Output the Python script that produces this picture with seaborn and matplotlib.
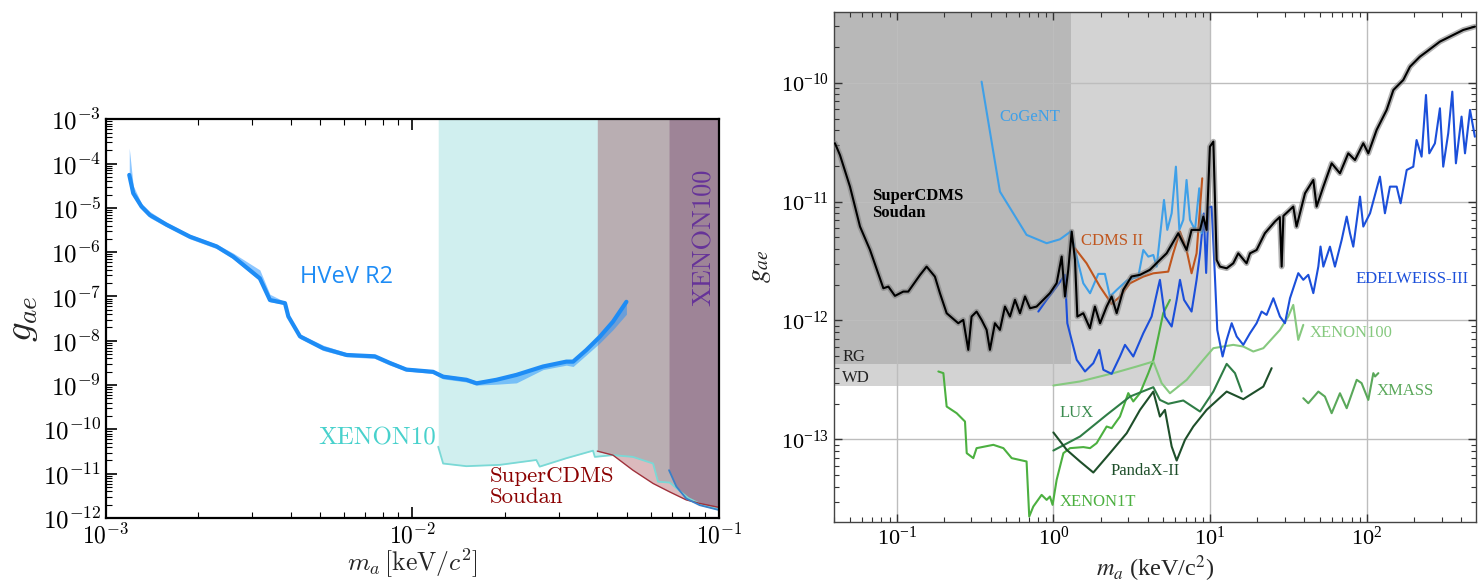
import numpy as np
import matplotlib
matplotlib.use("Agg")
import matplotlib.pyplot as plt
import seaborn as sns
from matplotlib.ticker import LogLocator, FuncFormatter, NullFormatter

# ---------------- data (log10 values) ----------------
# Left panel: HVeV R2 limit and its band
hvev_logm = [-2.924, -2.911, -2.884, -2.857, -2.802, -2.726, -2.639, -2.585, -2.498, -2.465,
             -2.416, -2.405, -2.367, -2.291, -2.215, -2.123, -2.074, -2.020, -1.933, -1.900,
             -1.824, -1.791, -1.726, -1.661, -1.574, -1.498, -1.476, -1.433, -1.389, -1.346, -1.302]
hvev_logg = [-4.256, -4.67, -4.97, -5.16, -5.38, -5.65, -5.87, -6.10, -6.59, -7.08,
             -7.15, -7.45, -7.90, -8.17, -8.32, -8.35, -8.50, -8.65, -8.70, -8.81,
             -8.88, -8.96, -8.88, -8.77, -8.58, -8.47, -8.47, -8.21, -7.91, -7.57, -7.12]
hvev_band_hi = [-3.65, -4.50, -4.90, -5.08, -5.33, -5.60, -5.82, -6.02, -6.40, -6.95,
                -7.12, -7.40, -7.85, -8.10, -8.27, -8.32, -8.45, -8.60, -8.66, -8.76,
                -8.84, -8.91, -8.84, -8.72, -8.55, -8.43, -8.45, -8.18, -7.88, -7.55, -7.10]
hvev_band_lo = [-4.40, -4.75, -5.02, -5.22, -5.43, -5.70, -5.92, -6.15, -6.65, -7.12,
                -7.18, -7.50, -7.95, -8.22, -8.36, -8.40, -8.55, -8.68, -8.74, -8.86,
                -8.93, -9.00, -8.98, -8.95, -8.65, -8.55, -8.58, -8.32, -8.05, -7.75, -7.40]

xenon10_logm = [-1.916, -1.900, -1.824, -1.715, -1.596, -1.585, -1.498, -1.411, -1.405, -1.346,
                -1.281, -1.215, -1.199, -1.161, -1.10, -1.05, -1.0]
xenon10_logg = [-10.39, -10.77, -10.83, -10.80, -10.69, -10.84, -10.65, -10.48, -10.62, -10.58,
                -10.62, -10.77, -11.18, -11.20, -11.55, -11.72, -11.80]

scdms_l_logm = [-1.397, -1.346, -1.281, -1.215, -1.161, -1.107, -1.063, -1.0]
scdms_l_logg = [-10.49, -10.58, -10.92, -11.22, -11.41, -11.59, -11.67, -11.76]

xenon100_l_logm = [-1.163, -1.139, -1.107, -1.063, -1.0]
xenon100_l_logg = [-10.92, -11.29, -11.56, -11.71, -11.82]

left_xticks = [1e-3, 1e-2, 1e-1]
left_yticks = [1e-12, 1e-11, 1e-10, 1e-9, 1e-8, 1e-7, 1e-6, 1e-5, 1e-4, 1e-3]

# Right panel
rg_mass_max, rg_g_min = 1.29, 4.3e-13
wd_mass_max, wd_g_min = 10.0, 2.8e-13
right_xticks = [1e-1, 1e0, 1e1, 1e2]
right_yticks = [1e-13, 1e-12, 1e-11, 1e-10]

soudan_logm = [-1.394, -1.362, -1.298, -1.234, -1.170, -1.085, -1.053, -1.011, -0.958, -0.926,
               -0.851, -0.809, -0.756, -0.724, -0.681, -0.607, -0.575, -0.543, -0.522, -0.490,
               -0.458, -0.426, -0.405, -0.373, -0.341, -0.309, -0.277, -0.245, -0.213, -0.181,
               -0.149, -0.107, -0.064, -0.022, 0.021, 0.053, 0.074, 0.095, 0.117, 0.138,
               0.153, 0.191, 0.233, 0.265, 0.298, 0.340, 0.372, 0.404, 0.446, 0.499,
               0.553, 0.616, 0.680, 0.723, 0.797, 0.850, 0.882, 0.936, 0.957, 0.978,
               0.999, 1.021, 1.042, 1.063, 1.106, 1.148, 1.180, 1.233, 1.255, 1.297,
               1.350, 1.414, 1.445, 1.457, 1.468, 1.531, 1.552, 1.606, 1.659, 1.680,
               1.723, 1.776, 1.829, 1.882, 1.925, 1.978, 2.010, 2.063, 2.127, 2.170,
               2.233, 2.276, 2.339, 2.382, 2.467, 2.531, 2.616, 2.690]
soudan_logg = [-10.509, -10.608, -10.874, -11.210, -11.407, -11.729, -11.715, -11.793, -11.757, -11.757,
               -11.617, -11.547, -11.631, -11.770, -11.939, -12.023, -11.995, -12.247, -11.967, -11.925,
               -11.995, -12.079, -12.247, -12.023, -12.079, -11.883, -11.967, -11.826, -11.939, -11.798,
               -11.897, -11.883, -11.826, -11.770, -11.686, -11.462, -11.798, -11.574, -11.252, -11.490,
               -11.967, -11.939, -12.065, -11.883, -12.023, -11.883, -11.798, -11.939, -11.742, -11.630,
               -11.616, -11.574, -11.490, -11.435, -11.266, -11.407, -11.238, -11.238, -11.126, -11.238,
               -10.538, -10.495, -11.491, -11.547, -11.561, -11.519, -11.435, -11.519, -11.435, -11.407,
               -11.266, -11.168, -11.13, -11.547, -11.12, -11.042, -11.210, -10.930, -10.818, -11.042,
               -10.874, -10.678, -10.762, -10.594, -10.650, -10.509, -10.594, -10.397, -10.229, -10.061,
               -9.977, -9.865, -9.781, -9.739, -9.654, -9.612, -9.556, -9.528]

cogent_logm = [-0.458, -0.341, -0.171, -0.043, 0.042, 0.110, 0.138, 0.191, 0.234, 0.287,
               0.329, 0.361, 0.404, 0.468, 0.542, 0.574, 0.606, 0.638, 0.659, 0.706,
               0.727, 0.755, 0.782, 0.804, 0.829, 0.850, 0.872, 0.904, 0.931, 0.946]
cogent_logg = [-9.991, -10.916, -11.280, -11.350, -11.317, -11.252, -11.407, -11.687, -11.771, -11.608,
               -11.608, -11.799, -11.743, -11.665, -11.631, -11.407, -11.463, -11.449, -11.547, -10.986,
               -11.238, -11.098, -10.706, -11.238, -11.154, -10.818, -11.154, -11.238, -10.888, -11.266]

cdms2_logm = [0.138, 0.212, 0.297, 0.372, 0.425, 0.489, 0.574, 0.638, 0.733, 0.765,
              0.808, 0.850, 0.882, 0.914, 0.950]
cdms2_logg = [-11.393, -11.519, -11.715, -11.861, -11.799, -11.687, -11.631, -11.603, -11.589, -11.435,
              -11.252, -11.407, -11.603, -11.435, -10.804]

edel_logm = [-0.096, -0.043, 0.021, 0.074, 0.089, 0.149, 0.202, 0.255, 0.293, 0.319,
             0.372, 0.425, 0.457, 0.510, 0.574, 0.627, 0.670, 0.680, 0.712, 0.755,
             0.787, 0.808, 0.834, 0.882, 0.914, 0.936, 0.960, 0.975, 0.990, 1.010,
             1.030, 1.046, 1.080, 1.106, 1.138, 1.170, 1.212, 1.255, 1.297, 1.329,
             1.361, 1.404, 1.446, 1.478, 1.510, 1.563, 1.595, 1.627, 1.659, 1.691,
             1.705, 1.723, 1.765, 1.797, 1.840, 1.872, 1.893, 1.914, 1.957, 1.978,
             2.021, 2.084, 2.116, 2.148, 2.191, 2.216, 2.255, 2.297, 2.318, 2.350,
             2.378, 2.399, 2.435, 2.467, 2.488, 2.520, 2.546, 2.569, 2.605, 2.627,
             2.659, 2.690]
edel_logg = [-11.925, -11.826, -11.714, -11.616, -12.023, -12.331, -12.429, -12.359, -12.247, -12.415,
             -12.449, -12.303, -12.205, -12.303, -12.107, -11.967, -11.714, -11.658, -11.967, -12.051,
             -11.827, -11.658, -11.827, -11.925, -11.658, -11.434, -11.10, -11.60, -11.05, -11.042,
             -11.60, -12.079, -12.303, -12.163, -12.023, -12.135, -12.205, -12.107, -12.023, -11.925,
             -11.953, -11.813, -11.967, -12.023, -11.813, -11.602, -11.658, -11.616, -11.770, -11.546,
             -11.378, -11.547, -11.379, -11.547, -11.322, -11.126, -11.266, -11.379, -10.958, -11.210,
             -11.098, -10.790, -11.098, -10.874, -10.874, -11.014, -10.734, -10.706, -10.482, -10.622,
             -10.103, -10.594, -10.510, -10.215, -10.706, -10.425, -10.075, -10.678, -10.285, -10.594,
             -10.229, -10.454]

xenon100_logm = [0.0, 0.170, 0.383, 0.532, 0.638, 0.691, 0.744, 0.851, 0.957, 1.021,
                 1.148, 1.212, 1.276, 1.340, 1.446, 1.499, 1.531, 1.563, 1.595]
xenon100_logg = [-12.547, -12.513, -12.443, -12.387, -12.345, -12.527, -12.612, -12.499, -12.331, -12.233,
                 -12.205, -12.219, -12.261, -12.233, -12.079, -11.967, -11.869, -12.163, -12.037]

xmass_logm = [1.595, 1.627, 1.691, 1.733, 1.776, 1.829, 1.872, 1.936, 1.967, 2.010, 2.042, 2.053, 2.074]
xmass_logg = [-12.654, -12.696, -12.598, -12.640, -12.780, -12.612, -12.738, -12.499, -12.527, -12.668,
              -12.443, -12.471, -12.443]

lux_logm = [0.0, 0.170, 0.340, 0.489, 0.638, 0.680, 0.733, 0.829, 0.936, 1.021, 1.106, 1.159, 1.202]
lux_logg = [-13.094, -12.976, -12.794, -12.640, -12.561, -12.668, -12.701, -12.673, -12.766, -12.598,
            -12.365, -12.443, -12.598]

pandax_logm = [0.0, 0.085, 0.170, 0.255, 0.361, 0.468, 0.553, 0.638, 0.680, 0.712,
               0.755, 0.787, 0.840, 0.893, 0.978, 1.106, 1.212, 1.340, 1.393]
pandax_logg = [-12.942, -13.088, -13.186, -13.279, -13.116, -12.948, -12.752, -12.598, -12.808, -12.752,
               -13.060, -13.178, -13.004, -12.892, -12.752, -12.598, -12.662, -12.556, -12.401]

xenon1t_logm = [-0.734, -0.702, -0.681, -0.617, -0.564, -0.553, -0.511, -0.490, -0.383, -0.319,
                -0.266, -0.171, -0.154, -0.128, -0.075, -0.043, -0.022, -0.005, 0.021, 0.064,
                0.106, 0.191, 0.234, 0.276, 0.340, 0.372, 0.425, 0.478, 0.510, 0.553,
                0.606, 0.638, 0.670, 0.701, 0.744]
xenon1t_logg = [-12.429, -12.443, -12.724, -12.780, -12.850, -13.116, -13.158, -13.074, -13.046, -13.074,
                -13.158, -13.186, -13.649, -13.565, -13.467, -13.509, -13.481, -13.551, -13.340, -13.116,
                -13.074, -13.065, -13.074, -13.032, -12.892, -12.906, -12.808, -12.611, -12.681, -12.611,
                -12.443, -12.331, -12.135, -11.939, -11.827]


def P(v):
    return 10.0 ** np.asarray(v, dtype=float)


def line(ax, lm, lg, color, lw=1.5, zorder=3, alpha=1.0):
    sns.lineplot(x=P(lm), y=P(lg), ax=ax, color=color, lw=lw, sort=False,
                 estimator=None, legend=False, zorder=zorder, alpha=alpha)


sns.set_theme(style="ticks")
plt.rcParams["font.family"] = ["DejaVu Sans"]
plt.rcParams["mathtext.fontset"] = "cm"

fig = plt.figure(figsize=(14.8, 5.81), dpi=100)
ax1 = fig.add_axes([0.0716, 0.1084, 0.4142, 0.6863])
ax2 = fig.add_axes([0.5635, 0.1021, 0.4338, 0.8778])

# ---------------- left panel ----------------
L_TOP = 1e-3
ax1.fill_between(P(xenon10_logm), P(xenon10_logg), L_TOP, color="#D0EFEF", lw=0, zorder=1)
ax1.fill_between(P(scdms_l_logm), P(scdms_l_logg), L_TOP, color="#7D000E", alpha=0.27, lw=0, zorder=1.1)
ax1.fill_between(P(xenon100_l_logm), P(xenon100_l_logg), L_TOP, color="#4B0042", alpha=0.24, lw=0, zorder=1.2)
line(ax1, xenon10_logm, xenon10_logg, "#7AD9D6", lw=1.3, zorder=2)
line(ax1, scdms_l_logm, scdms_l_logg, "#A0323C", lw=1.0, zorder=2)
line(ax1, xenon100_l_logm, xenon100_l_logg, "#3A80C8", lw=1.3, zorder=2)

ax1.fill_between(P(hvev_logm), P(hvev_band_lo), P(hvev_band_hi), color="#1E90FF", alpha=0.5, lw=0, zorder=3)
line(ax1, hvev_logm, hvev_logg, "#1E8CF5", lw=3.0, zorder=4)

ax1.set_xscale("log")
ax1.set_yscale("log")
ax1.set_xlim(1e-3, 1e-1)
ax1.set_ylim(1e-12, 1e-3)
fmt_cm = FuncFormatter(lambda v, p: r"$10^{%d}$" % int(round(np.log10(v))))
ax1.set_xticks(left_xticks)
ax1.set_yticks(left_yticks)
ax1.xaxis.set_minor_locator(LogLocator(base=10, subs=np.arange(2, 10), numticks=20))
ax1.yaxis.set_minor_locator(LogLocator(base=10, subs=np.arange(2, 10), numticks=20))
ax1.xaxis.set_major_formatter(fmt_cm)
ax1.yaxis.set_major_formatter(fmt_cm)
ax1.xaxis.set_minor_formatter(NullFormatter())
ax1.yaxis.set_minor_formatter(NullFormatter())
ax1.tick_params(which="both", direction="in", top=True, right=True, colors="black", labelsize=18)
ax1.tick_params(which="major", length=8, width=1.2)
ax1.tick_params(which="minor", length=4, width=0.8)
ax1.tick_params(axis="x", pad=4, labelsize=17)
for s in ax1.spines.values():
    s.set_color("black")
    s.set_linewidth(1.6)
ax1.set_xlabel(r"$m_a\,[\mathrm{keV}/c^2]$", fontsize=18.5, va="top")
ax1.xaxis.set_label_coords(0.5, -0.072)
ax1.set_ylabel(r"$g_{ae}$", fontsize=28, labelpad=2)

ax1.text(4.3e-3, 2.75e-7, "HVeV R2", color="#1E8CF5", fontsize=17, family="Open Sans",
         ha="left", va="center", zorder=5)
ax1.text(1.19e-2, 6.4e-11, "XENON10", color="#48D1CC", fontsize=18, family="cmr10",
         ha="right", va="center", zorder=5)
ax1.text(1.786e-2, 8.8e-12, "SuperCDMS", color="#8B0000", fontsize=16.5, family="cmr10",
         ha="left", va="center", zorder=5)
ax1.text(1.786e-2, 3.0e-12, "Soudan", color="#8B0000", fontsize=16.5, family="cmr10",
         ha="left", va="center", zorder=5)
ax1.text(0.0895, 2.2e-6, "XENON100", color="#663399", fontsize=19, family="cmr10",
         rotation=90, ha="center", va="center", zorder=5)

# ---------------- right panel ----------------
R_XMIN, R_XMAX = 0.0398, 498.0
R_YMIN, R_YMAX = 2.03e-14, 3.96e-10
ax2.fill_between([R_XMIN, wd_mass_max], wd_g_min, R_YMAX, color="#D3D3D3", lw=0, zorder=0.2)
ax2.fill_between([R_XMIN, rg_mass_max], rg_g_min, R_YMAX, color="#B8B8B8", lw=0, zorder=0.3)

line(ax2, xenon1t_logm, xenon1t_logg, "#4CB040", lw=1.5)
line(ax2, lux_logm, lux_logg, "#2F7D46", lw=1.5)
line(ax2, pandax_logm, pandax_logg, "#1E4F2A", lw=1.5)
line(ax2, xenon100_logm, xenon100_logg, "#86C97F", lw=1.5)
line(ax2, xmass_logm, xmass_logg, "#5AA85A", lw=1.5)
line(ax2, edel_logm, edel_logg, "#1B4FDA", lw=1.5)
line(ax2, cogent_logm, cogent_logg, "#3FA0E8", lw=1.5)
line(ax2, cdms2_logm, cdms2_logg, "#C0561E", lw=1.5)
line(ax2, soudan_logm, soudan_logg, "#808080", lw=4.0, zorder=3.5, alpha=0.6)
line(ax2, soudan_logm, soudan_logg, "black", lw=1.5, zorder=4)

ax2.set_xscale("log")
ax2.set_yscale("log")
ax2.set_xlim(R_XMIN, R_XMAX)
ax2.set_ylim(R_YMIN, R_YMAX)
fmt_r = FuncFormatter(lambda v, p: r"$\mathregular{10^{%d}}$" % int(round(np.log10(v))))
ax2.set_xticks(right_xticks)
ax2.set_yticks(right_yticks)
ax2.xaxis.set_minor_locator(LogLocator(base=10, subs=np.arange(2, 10), numticks=20))
ax2.yaxis.set_minor_locator(LogLocator(base=10, subs=np.arange(2, 10), numticks=20))
ax2.xaxis.set_major_formatter(fmt_r)
ax2.yaxis.set_major_formatter(fmt_r)
ax2.xaxis.set_minor_formatter(NullFormatter())
ax2.yaxis.set_minor_formatter(NullFormatter())
ax2.set_axisbelow(True)
ax2.grid(True, which="major", color="#BDBDBD", lw=1.0)
ax2.tick_params(which="both", direction="in", top=True, right=True, colors="#333333",
                labelsize=16, labelcolor="black")
ax2.tick_params(which="major", length=6, width=1.0)
ax2.tick_params(which="minor", length=3.5, width=0.8)
for lbl in ax2.get_xticklabels() + ax2.get_yticklabels():
    lbl.set_family("Liberation Serif")
for s in ax2.spines.values():
    s.set_color("#444444")
    s.set_linewidth(1.0)
ax2.set_xlabel(r"$m_a$ (keV/c$^2$)", fontsize=17.5, family="Liberation Serif",
               math_fontfamily="stix", va="top")
ax2.xaxis.set_label_coords(0.5, -0.062)
ax2.set_ylabel(r"$g_{ae}$", fontsize=20, math_fontfamily="stix", labelpad=6)

tkw = dict(family="Liberation Serif", fontsize=12, ha="left", va="center", zorder=6)
ax2.text(0.45, 5.15e-11, "CoGeNT", color="#3FA0E8", **tkw)
ax2.text(0.0695, 9.4e-12, "SuperCDMS\nSoudan", color="black", fontweight="bold",
         linespacing=1.1, **tkw)
ax2.text(1.50, 4.67e-12, "CDMS II", color="#C0561E", **tkw)
ax2.text(85.3, 2.23e-12, "EDELWEISS-III", color="#1B4FDA", **tkw)
ax2.text(43.5, 7.87e-13, "XENON100", color="#86C97F", **tkw)
ax2.text(116, 2.56e-13, "XMASS", color="#5AA85A", **tkw)
ax2.text(1.10, 1.67e-13, "LUX", color="#3C8C50", **tkw)
ax2.text(2.30, 5.43e-14, "PandaX-II", color="#1E4F2A", **tkw)
ax2.text(1.10, 2.98e-14, "XENON1T", color="#4CB040", **tkw)
ax2.text(0.0448, 4.94e-13, "RG", color="#222222", **tkw)
ax2.text(0.0448, 3.29e-13, "WD", color="#222222", **tkw)

fig.savefig("out.png", dpi=100)
